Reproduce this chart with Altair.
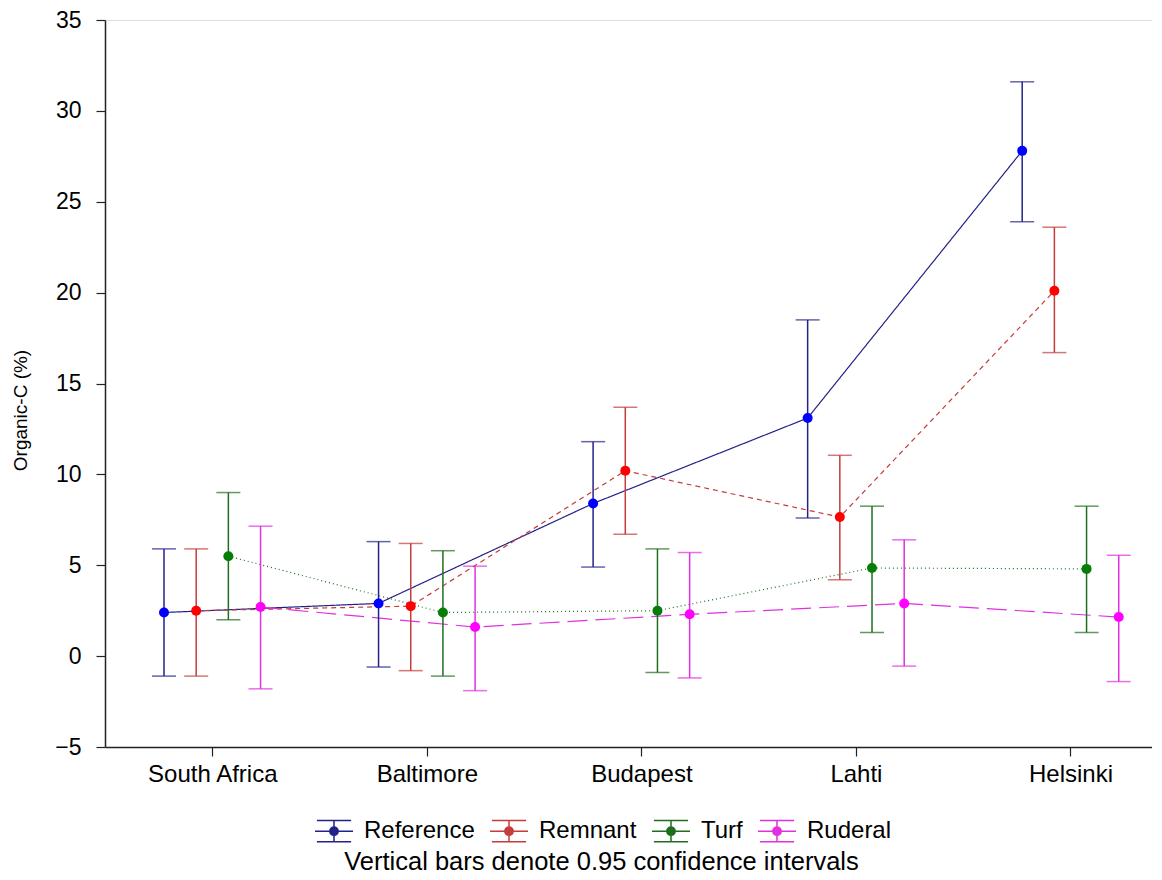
import json
import altair as alt
import pandas as pd

# ---------------- data ----------------
cities = ["South Africa", "Baltimore", "Budapest", "Lahti", "Helsinki"]
series_names = ["Reference", "Remnant", "Turf", "Ruderal"]

reference_mean = [2.4, 2.9, 8.4, 13.1, 27.8]
reference_lo = [-1.1, -0.6, 4.9, 7.6, 23.9]
reference_hi = [5.9, 6.3, 11.8, 18.5, 31.6]

remnant_mean = [2.5, 2.75, 10.2, 7.65, 20.1]
remnant_lo = [-1.1, -0.8, 6.7, 4.2, 16.7]
remnant_hi = [5.9, 6.2, 13.7, 11.05, 23.6]

turf_mean = [5.5, 2.4, 2.5, 4.85, 4.8]
turf_lo = [2.0, -1.1, -0.9, 1.3, 1.3]
turf_hi = [9.0, 5.8, 5.9, 8.25, 8.25]

ruderal_mean = [2.7, 1.6, 2.3, 2.9, 2.15]
ruderal_lo = [-1.8, -1.9, -1.2, -0.55, -1.4]
ruderal_hi = [7.15, 4.95, 5.7, 6.4, 5.55]

y_ticks = [-5, 0, 5, 10, 15, 20, 25, 30, 35]

line_colors = ["#22228a", "#c43c3c", "#1e6e1e", "#e030e0"]
point_colors = ["#0000ff", "#ff0000", "#067d06", "#ff00ff"]
dash_styles = [[1, 0], [5, 4], [1, 3], [20, 8]]

table = {
    "Reference": (reference_mean, reference_lo, reference_hi),
    "Remnant": (remnant_mean, remnant_lo, remnant_hi),
    "Turf": (turf_mean, turf_lo, turf_hi),
    "Ruderal": (ruderal_mean, ruderal_lo, ruderal_hi),
}
rows = []
for s_idx, name in enumerate(series_names):
    m, lo, hi = table[name]
    for c_idx, city in enumerate(cities):
        rows.append({"series": name, "city": city, "city_idx": c_idx, "slot": s_idx,
                     "mean": m[c_idx], "lo": lo[c_idx], "hi": hi[c_idx]})
df = pd.DataFrame(rows)

FONT = "Liberation Sans"
label_expr = "[" + ",".join(json.dumps(c) for c in cities) + "][datum.value]"

x_enc = alt.X(
    "xpos:Q",
    scale=alt.Scale(domain=[-0.5, 4.38], nice=False, zero=False),
    axis=alt.Axis(values=[0, 1, 2, 3, 4], labelExpr=label_expr, title=None, grid=False,
                  tickSize=9, labelPadding=6, labelFontSize=24, labelFont=FONT,
                  labelColor="black", domainColor="#222222", tickColor="#222222",
                  domainWidth=1.5, tickWidth=1.2, labelOverlap=False, labelFlush=False),
)
y_scale = alt.Scale(domain=[-5, 35], nice=False, zero=False)
y_axis = alt.Axis(values=y_ticks, title="Organic-C (%)", grid=False, tickSize=9,
                  labelPadding=15, labelFontSize=23, labelFont=FONT, labelColor="black",
                  titleFont=FONT, titleFontSize=19, titleFontWeight="normal",
                  titleColor="black", titlePadding=24, titleY=390,
                  domainColor="#222222", tickColor="#222222", domainWidth=1.5,
                  tickWidth=1.2)

rings = "".join(
    f"M-{r},0A{r},{r} 0 1,0 {r},0A{r},{r} 0 1,0 -{r},0" for r in [0.22, 0.16, 0.1, 0.04]
)
symbol_path = "M-1,0H1M0,-0.56V0.56M-0.9,-0.56H0.9M-0.9,0.56H0.9" + rings

legend = alt.Legend(title=None, orient="none", legendX=209, legendY=791,
                    direction="horizontal",
                    symbolType=symbol_path, symbolSize=1444, symbolStrokeWidth=1.5,
                    labelFontSize=24, labelFont=FONT, labelColor="black",
                    labelOffset=10, columnPadding=12, symbolOpacity=1)

color_enc = alt.Color("series:N", scale=alt.Scale(domain=series_names, range=line_colors),
                      legend=legend)

# dash scale listed in reverse order so that it is not merged into the colour legend
dash_domain = series_names[::-1]
dash_range = dash_styles[::-1]

base = alt.Chart(df).transform_calculate(
    xpos="datum.city_idx + (datum.slot - 1.5) * 0.15"
)

lines = base.mark_line(strokeWidth=1.2).encode(
    x=x_enc,
    y=alt.Y("mean:Q", scale=y_scale, axis=y_axis),
    color=color_enc,
    strokeDash=alt.StrokeDash("series:N",
                              scale=alt.Scale(domain=dash_domain, range=dash_range),
                              legend=None),
    detail="series:N",
)

whiskers = base.mark_rule(strokeWidth=1.5).encode(
    x=x_enc,
    y=alt.Y("lo:Q", scale=y_scale),
    y2="hi:Q",
    color=color_enc,
)

cap_lo = base.mark_tick(orient="horizontal", size=24, thickness=1.5).encode(
    x=x_enc, y=alt.Y("lo:Q", scale=y_scale), color=color_enc
)
cap_hi = base.mark_tick(orient="horizontal", size=24, thickness=1.5).encode(
    x=x_enc, y=alt.Y("hi:Q", scale=y_scale), color=color_enc
)

points = base.mark_point(filled=True, size=100, opacity=1, shape="circle").encode(
    x=x_enc,
    y=alt.Y("mean:Q", scale=y_scale),
    fill=alt.Fill("series:N",
                  scale=alt.Scale(domain=series_names[::-1], range=point_colors[::-1]),
                  legend=None),
)

chart = alt.layer(lines, whiskers, cap_lo, cap_hi, points).properties(
    width=1047,
    height=727,
    padding={"left": 3, "top": 1, "right": 0, "bottom": 0},
    title=alt.TitleParams(text="Vertical bars denote 0.95 confidence intervals",
                          orient="bottom", anchor="middle", fontSize=25.5, font=FONT,
                          fontWeight="normal", color="black", offset=5, dx=-27),
).configure_view(stroke=None).configure(background="white")

chart.save("out.html", embed_options={"renderer": "svg", "actions": False})
